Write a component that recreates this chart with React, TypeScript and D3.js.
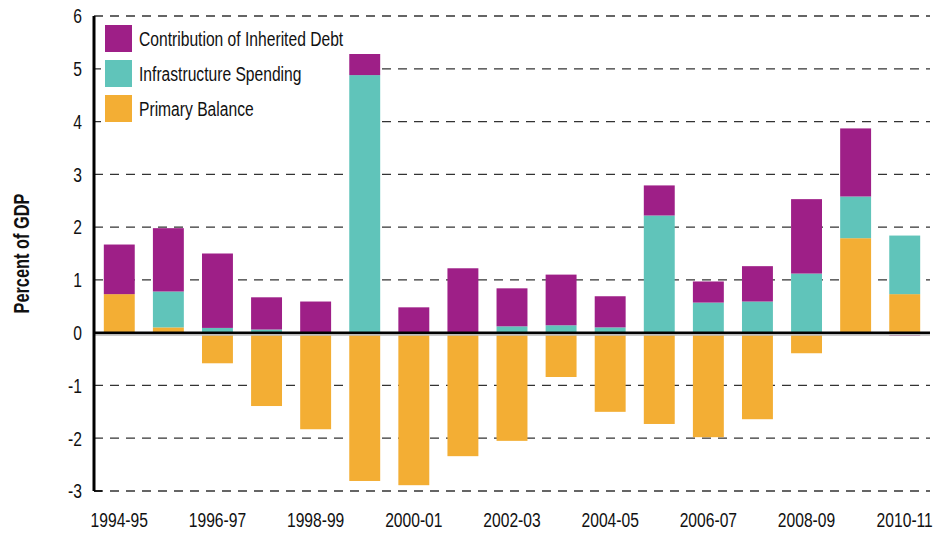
import React from 'react';
import * as d3 from 'd3';

const years = [
  '1994-95', '1995-96', '1996-97', '1997-98', '1998-99', '1999-00', '2000-01', '2001-02', '2002-03',
  '2003-04', '2004-05', '2005-06', '2006-07', '2007-08', '2008-09', '2009-10', '2010-11',
];
const primaryBalance = [0.73, 0.1, -0.58, -1.39, -1.83, -2.81, -2.89, -2.34, -2.05, -0.84, -1.5, -1.73, -1.98, -1.64, -0.39, 1.79, 0.73];
const infrastructure = [0, 0.68, 0.09, 0.06, 0, 4.88, 0, 0, 0.12, 0.14, 0.1, 2.22, 0.57, 0.59, 1.12, 0.79, 1.11];
const inheritedDebt = [0.94, 1.2, 1.41, 0.61, 0.59, 0.4, 0.48, 1.22, 0.72, 0.96, 0.59, 0.57, 0.4, 0.67, 1.41, 1.29, -0.06];
const yTicks = [-3, -2, -1, 0, 1, 2, 3, 4, 5, 6];
const labelYears = years.filter((_, i) => i % 2 === 0);

const series = [
  { key: 'pb', name: 'Primary Balance', color: '#F3AE34', values: primaryBalance },
  { key: 'infra', name: 'Infrastructure Spending', color: '#60C4BA', values: infrastructure },
  { key: 'debt', name: 'Contribution of Inherited Debt', color: '#9E1F87', values: inheritedDebt },
];

const W = 943, H = 533;
const left = 94, right = 930, top = 16, bottom = 491;
const font = '"Liberation Sans", Arial, sans-serif';
const squeeze = 0.745; // condensed look

// text drawn with a horizontal squeeze so it reads like a condensed face
function Txt({ x, y, anchor = 'start', size = 21, bold = false, rotate = 0, children }: any) {
  return (
    <g transform={`translate(${x},${y}) rotate(${rotate}) scale(${squeeze},1)`}>
      <text textAnchor={anchor} dy="0.35em" fontSize={size} fontWeight={bold ? 'bold' : 'normal'} fill="#111">{children}</text>
    </g>
  );
}

export default function App() {
  const rows = years.map((y, i) => {
    const r: any = { year: y };
    series.forEach(s => { r[s.key] = s.values[i]; });
    return r;
  });
  const stacked = d3.stack<any>()
    .keys(series.map(s => s.key))
    .offset(d3.stackOffsetDiverging)(rows);

  const x = d3.scaleBand().domain(years).range([left, right]).paddingInner(0.37).paddingOuter(0.2);
  const y = d3.scaleLinear().domain([-3, 6]).range([bottom, top]);

  const legendItems = [...series].reverse();

  return (
    <>
      <style>{'body{margin:0}'}</style>
      <svg width={W} height={H} style={{ display: 'block', fontFamily: font }}>
        {/* gridlines */}
        {yTicks.filter(t => t !== 0).map(t => (
          <line key={t} x1={left} x2={right} y1={y(t)} y2={y(t)} stroke="#333" strokeWidth={1.3} strokeDasharray="9,7" />
        ))}
        {/* legend box covers the grid */}
        <rect x={101} y={20} width={242} height={110} fill="#fff" />
        {/* bars */}
        {stacked.map((layer, li) => (
          <g key={layer.key} fill={series[li].color}>
            {layer.map((d, i) => (
              d[1] - d[0] === 0 ? null : (
                <rect key={i} x={x(years[i])} width={x.bandwidth()} y={y(Math.max(d[0], d[1]))}
                  height={Math.abs(y(d[0]) - y(d[1]))} />
              )
            ))}
          </g>
        ))}
        {/* zero line */}
        <line x1={left} x2={right} y1={y(0) + 2} y2={y(0) + 2} stroke="#bbb" strokeWidth={2} />
        <line x1={left} x2={right} y1={y(0)} y2={y(0)} stroke="#000" strokeWidth={2.5} />
        {/* y axis */}
        <line x1={left} x2={left} y1={top} y2={bottom} stroke="#000" strokeWidth={3} />
        <line x1={left} x2={left + 8} y1={bottom} y2={bottom} stroke="#000" strokeWidth={1.5} />
        {yTicks.map(t => (
          <Txt key={t} x={left - 12} y={y(t)} anchor="end">{t}</Txt>
        ))}
        <g transform={`translate(21,${(top + bottom) / 2}) rotate(-90)`}>
          <text transform={`scale(${squeeze},1)`} textAnchor="middle" dy="0.35em" fontSize={22} fontWeight="bold" fill="#111">Percent of GDP</text>
        </g>
        {/* x labels */}
        {labelYears.map(yr => (
          <Txt key={yr} x={x(yr)! + x.bandwidth() / 2} y={520} anchor="middle">{yr}</Txt>
        ))}
        {/* legend */}
        {legendItems.map((s, i) => (
          <g key={s.key} transform={`translate(105,${25 + i * 35})`}>
            <rect width={27} height={27} fill={s.color} />
            <Txt x={34} y={14}>{s.name}</Txt>
          </g>
        ))}
      </svg>
    </>
  );
}
